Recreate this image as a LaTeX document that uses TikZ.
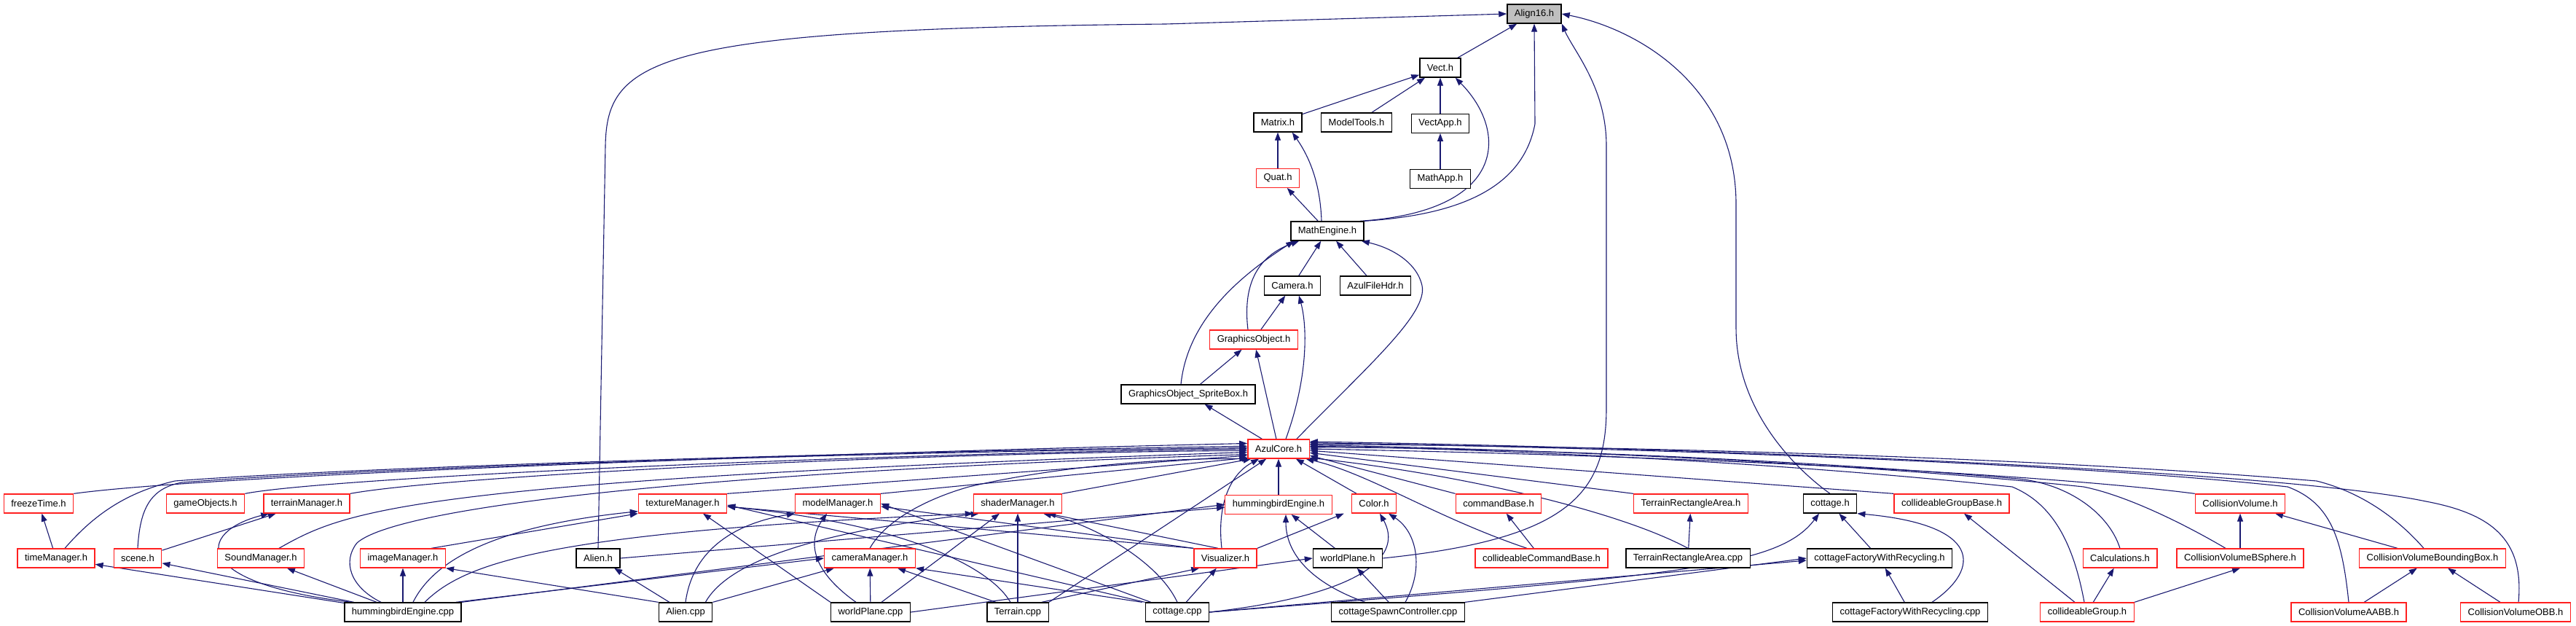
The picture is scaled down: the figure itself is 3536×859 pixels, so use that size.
\documentclass[tikz,border=0pt]{standalone}
\usepackage{fontspec}
\setmainfont{Liberation Sans}
\usetikzlibrary{arrows.meta,positioning,backgrounds}
\definecolor{EdgeBlue}{HTML}{191970}
\definecolor{RootGray}{HTML}{BFBFBF}
\definecolor{HdrRed}{HTML}{FF2020}
\tikzset{
  hdr/.style={rectangle,draw=black,line width=1.3pt,fill=white,minimum height=26pt,inner xsep=10pt,inner ysep=0pt,font=\fontsize{13}{15}\selectfont},
  redhdr/.style={hdr,draw=HdrRed},
  roothdr/.style={hdr,fill=RootGray},
  arrow/.style={-{Triangle[length=11pt,width=8pt]},line width=1.1pt,color=EdgeBlue},
}

\begin{document}
\begin{tikzpicture}[x=1pt,y=-1pt,node distance=49pt]
  \useasboundingbox (0,0) rectangle (3536,859);

  % Math part
  \node[roothdr] (align) at (2106,19) {Align16.h};
  \node[hdr] (vect) at (1977,93) {Vect.h};
  \node[hdr] (matrix) at (1754,168) {Matrix.h};
  \node[hdr] (modeltools) at (1862,168) {ModelTools.h};
  \node[hdr, below=of vect] (vectapp) {VectApp.h};
  \node[redhdr, below=of matrix] (quat) {Quat.h};
  \node[hdr, below=of vectapp] (mathapp) {MathApp.h};
  \node[hdr] (mathengine) at (1822,317) {MathEngine.h};
  \node[hdr] (camera) at (1774,392) {Camera.h};
  \node[hdr] (azulfilehdr) at (1888,392) {AzulFileHdr.h};
  \node[redhdr] (graphicsobj) at (1721,466) {GraphicsObject.h};
  \node[hdr] (spritebox) at (1631,541) {GraphicsObject\_SpriteBox.h};
  \node[redhdr] (azulcore) at (1755,616) {AzulCore.h};

  % Row under AzulCore
  \node[redhdr] (freezetime) at (53,691) {freezeTime.h};
  \node[redhdr] (gameobjects) at (282,691) {gameObjects.h};
  \node[redhdr] (terrainmgr) at (421,691) {terrainManager.h};
  \node[redhdr] (texturemgr) at (937,691) {textureManager.h};
  \node[redhdr] (modelmgr) at (1150,691) {modelManager.h};
  \node[redhdr] (shadermgr) at (1397,691) {shaderManager.h};
  \node[redhdr, below=of azulcore] (hbengineh) {hummingbirdEngine.h};
  \node[redhdr] (color) at (1886,691) {Color.h};
  \node[redhdr] (commandbase) at (2057,691) {commandBase.h};
  \node[redhdr] (terrainrectareah) at (2321,691) {TerrainRectangleArea.h};
  \node[hdr] (cottageh) at (2512,691) {cottage.h};
  \node[redhdr] (collgroupbase) at (2679,691) {collideableGroupBase.h};
  \node[redhdr] (collvolume) at (3075,691) {CollisionVolume.h};

  % Next row
  \node[redhdr] (timemgr) at (77,766) {timeManager.h};
  \node[redhdr] (scene) at (189,766) {scene.h};
  \node[redhdr] (soundmgr) at (358,766) {SoundManager.h};
  \node[redhdr] (imagemgr) at (553,766) {imageManager.h};
  \node[hdr] (alienh) at (821,766) {Alien.h};
  \node[redhdr] (cameramgr) at (1194,766) {cameraManager.h};
  \node[redhdr] (visualizer) at (1682,766) {Visualizer.h};
  \node[hdr] (worldplaneh) at (1850,766) {worldPlane.h};
  \node[redhdr] (collcmdbase) at (2116,766) {collideableCommandBase.h};
  \node[hdr] (terrainrectareacpp) at (2317,766) {TerrainRectangleArea.cpp};
  \node[hdr] (cottagefactoryh) at (2580,766) {cottageFactoryWithRecycling.h};
  \node[redhdr] (calculations) at (2910,766) {Calculations.h};
  \node[redhdr] (bsphere) at (3075,766) {CollisionVolumeBSphere.h};
  \node[redhdr] (boundingbox) at (3339,766) {CollisionVolumeBoundingBox.h};

  % Bottom row
  \node[hdr] (hbenginecpp) at (553,840) {hummingbirdEngine.cpp};
  \node[hdr] (aliencpp) at (941,840) {Alien.cpp};
  \node[hdr] (worldplanecpp) at (1195,840) {worldPlane.cpp};
  \node[hdr] (terraincpp) at (1397,840) {Terrain.cpp};
  \node[hdr] (cottagecpp) at (1616,840) {cottage.cpp};
  \node[hdr] (spawnctrl) at (1919,840) {cottageSpawnController.cpp};
  \node[hdr] (cottagefactorycpp) at (2622,840) {cottageFactoryWithRecycling.cpp};
  \node[redhdr] (collgroup) at (2865,840) {collideableGroup.h};
  \node[redhdr] (aabb) at (3224,840) {CollisionVolumeAABB.h};
  \node[redhdr] (obb) at (3453,840) {CollisionVolumeOBB.h};

  \begin{scope}[on background layer]
  % Into Align16.h
  \draw[arrow] (vect) -- (align);
  \draw[arrow] (alienh.north) -- (831,200) .. controls (833,80) and (900,40) .. (1600,33) -- (align.west);
  \draw[arrow] (mathengine.north east) .. controls (2000,295) and (2090,260) .. (2107,170) -- (align.south);
  \draw[arrow] (worldplaneh.east) .. controls (2150,740) and (2205,680) .. (2205,560) -- (2205,200) .. controls (2205,120) and (2160,70) .. (align.south east);
  \draw[arrow] (cottageh.north) .. controls (2460,640) and (2383,560) .. (2383,450) -- (2383,280) .. controls (2383,120) and (2250,40) .. (align.east);

  % Vect.h, Matrix.h and friends
  \draw[arrow] (matrix) -- (vect);
  \draw[arrow] (modeltools) -- (vect);
  \draw[arrow] (vectapp) -- (vect);
  \draw[arrow] ([xshift=-6pt]mathengine.north east) .. controls (2070,290) and (2070,180) .. ([xshift=-8pt]vect.south east);
  \draw[arrow] (quat) -- (matrix);
  \draw[arrow] ([xshift=-8pt]mathengine.north) .. controls (1812,240) and (1790,205) .. ([xshift=-14pt]matrix.south east);
  \draw[arrow] (mathapp) -- (vectapp);
  \draw[arrow] (mathengine) -- (quat);

  % MathEngine.h and graphics
  \draw[arrow] (camera) -- (mathengine);
  \draw[arrow] (azulfilehdr) -- (mathengine);
  \draw[arrow] ([xshift=-8pt]graphicsobj.north) .. controls (1705,385) and (1730,350) .. ([xshift=12pt]mathengine.south west);
  \draw[arrow] ([xshift=-10pt]spritebox.north) .. controls (1630,440) and (1700,380) .. ([xshift=5pt]mathengine.south west);
  \draw[arrow] ([xshift=-18pt]azulcore.north east) .. controls (1880,500) and (1960,430) .. (1952,392) .. controls (1945,360) and (1910,340) .. ([xshift=-4pt]mathengine.south east);
  \draw[arrow] (graphicsobj) -- (camera);
  \draw[arrow] ([xshift=10pt]azulcore.north) .. controls (1795,520) and (1795,450) .. ([xshift=9pt]camera.south);
  \draw[arrow] (spritebox) -- (graphicsobj);
  \draw[arrow] (azulcore) -- (graphicsobj);
  \draw[arrow] (azulcore) -- (spritebox);

  % Into AzulCore.h from the left
  \draw[arrow] (freezetime.north east) .. controls (300,650) and (1200,620) .. (azulcore.170);
  \draw[arrow] ([xshift=12pt]timemgr.north) .. controls (130,705) and (175,675) .. (240,660) .. controls (500,640) and (1200,620) .. (azulcore.175);
  \draw[arrow] (scene.north) .. controls (192,700) and (205,670) .. (250,662) .. controls (500,642) and (1200,620) .. (azulcore.178);
  \draw[arrow] (gameobjects.north east) .. controls (450,655) and (1200,622) .. (azulcore.180);
  \draw[arrow] (terrainmgr.north east) .. controls (600,655) and (1200,622) .. (azulcore.183);
  \draw[arrow] ([xshift=25pt]soundmgr.north) .. controls (475,700) and (560,660) .. (azulcore.186);
  \draw[arrow] ([xshift=-30pt]hbenginecpp.north) .. controls (480,805) and (470,770) .. (490,745) .. controls (540,700) and (900,650) .. (azulcore.190);
  \draw[arrow] (texturemgr.north east) -- (azulcore.192);
  \draw[arrow] (modelmgr.north east) -- (azulcore.196);
  \draw[arrow] (shadermgr.north east) -- (azulcore.200);
  \draw[arrow] (cameramgr.north) .. controls (1215,715) and (1270,685) .. (1330,668) .. controls (1450,640) and (1600,628) .. ([xshift=4pt]azulcore.south west);
  \draw[arrow] ([xshift=-5pt]visualizer.north) .. controls (1670,690) and (1690,650) .. ([xshift=16pt]azulcore.south west);
  \draw[arrow] (terraincpp.north east) -- ([xshift=26pt]azulcore.south west);
  \draw[arrow] (hbengineh) -- (azulcore);

  % Into AzulCore.h from the right
  \draw[arrow] (color) -- (azulcore);
  \draw[arrow] (commandbase.north west) -- (azulcore.-12);
  \draw[arrow] ([xshift=-20pt]collcmdbase.north) .. controls (1970,710) and (1880,650) .. (azulcore.-20);
  \draw[arrow] (terrainrectareah.north west) -- (azulcore.-7);
  \draw[arrow] (terrainrectareacpp.north) .. controls (2220,700) and (2000,650) .. (azulcore.-16);
  \draw[arrow] (collgroupbase.north west) -- (azulcore.-3);
  \draw[arrow] (collvolume.north west) .. controls (2800,650) and (2300,625) .. (azulcore.0);
  \draw[arrow] (calculations.north) .. controls (2895,705) and (2840,664) .. (2770,657) .. controls (2400,625) and (2000,614) .. (azulcore.3);
  \draw[arrow] ([xshift=-4pt]collgroup.north) .. controls (2845,740) and (2815,690) .. (2762,668) .. controls (2400,630) and (2000,615) .. (azulcore.5);
  \draw[arrow] ([xshift=-20pt]bsphere.north) .. controls (3000,720) and (2920,680) .. (2860,668) .. controls (2500,630) and (2000,614) .. (azulcore.7);
  \draw[arrow] ([xshift=-12pt]boundingbox.north) .. controls (3290,710) and (3240,675) .. (3180,660) .. controls (2700,620) and (2100,612) .. (azulcore.9);
  \draw[arrow] (aabb.north) .. controls (3215,740) and (3200,690) .. (3140,668) .. controls (2800,630) and (2100,612) .. (azulcore.11);
  \draw[arrow] ([xshift=4pt]obb.north) .. controls (3465,740) and (3420,705) .. (3330,688) .. controls (3100,640) and (2200,612) .. (azulcore.13);

  % Left group
  \draw[arrow] (timemgr) -- (freezetime);
  \draw[arrow] (scene) -- (terrainmgr);
  \draw[arrow] (hbenginecpp) -- (timemgr);
  \draw[arrow] (hbenginecpp) -- (scene);
  \draw[arrow] ([xshift=10pt]hbenginecpp.north west) .. controls (260,800) and (270,730) .. ([xshift=8pt]terrainmgr.south west);
  \draw[arrow] (hbenginecpp) -- (soundmgr);
  \draw[arrow] (hbenginecpp) -- (imagemgr);
  \draw[arrow] ([xshift=14pt]hbenginecpp.north) .. controls (600,760) and (700,720) .. ([yshift=3pt]texturemgr.south west);
  \draw[arrow] ([xshift=-20pt]imagemgr.north east) -- (texturemgr.south west);
  \draw[arrow] ([xshift=30pt]hbenginecpp.north) .. controls (640,770) and (760,730) .. (shadermgr.south west);
  \draw[arrow] ([xshift=-8pt]hbenginecpp.north east) -- (cameramgr.west);
  \draw[arrow] (hbenginecpp.north east) -- (hbengineh.west);
  \draw[arrow] (alienh.east) -- ([yshift=-4pt]hbengineh.west);

  % Alien.cpp
  \draw[arrow] (aliencpp) -- (alienh);
  \draw[arrow] (aliencpp.north west) -- (imagemgr.south east);
  \draw[arrow] (aliencpp.north) .. controls (950,760) and (1000,720) .. (modelmgr.south west);
  \draw[arrow] ([xshift=-10pt]aliencpp.north east) .. controls (1000,770) and (1120,730) .. ([xshift=8pt]shadermgr.south west);
  \draw[arrow] (aliencpp.north east) -- ([xshift=14pt]cameramgr.south west);

  % worldPlane.cpp
  \draw[arrow] (worldplanecpp.north west) -- ([xshift=28pt]texturemgr.south);
  \draw[arrow] ([xshift=-20pt]worldplanecpp.north) .. controls (1110,780) and (1110,740) .. ([xshift=-15pt]modelmgr.south);
  \draw[arrow] (worldplanecpp) -- (cameramgr);
  \draw[arrow] ([xshift=15pt]worldplanecpp.north) -- ([xshift=-25pt]shadermgr.south);
  \draw[arrow] (worldplanecpp.east) -- (worldplaneh.west);

  % Terrain.cpp
  \draw[arrow] ([xshift=-10pt]terraincpp.north) .. controls (1360,780) and (1250,720) .. ([yshift=-4pt]texturemgr.east);
  \draw[arrow] ([xshift=-30pt]terraincpp.north) -- ([xshift=-25pt]cameramgr.south east);
  \draw[arrow] (terraincpp) -- (shadermgr);
  \draw[arrow] ([xshift=-10pt]terraincpp.north east) -- ([xshift=8pt]visualizer.south west);

  % cottage.cpp
  \draw[arrow] (cottagecpp.north west) -- ([yshift=-2pt]texturemgr.east);
  \draw[arrow] ([xshift=8pt]cottagecpp.north west) -- (modelmgr.east);
  \draw[arrow] (cottagecpp.north) .. controls (1590,770) and (1500,720) .. ([xshift=35pt]shadermgr.south);
  \draw[arrow] ([xshift=-4pt]cottagecpp.north west) -- (cameramgr.south east);
  \draw[arrow] (cottagecpp) -- (visualizer);
  \draw[arrow] (cottagecpp.east) .. controls (1880,815) and (1925,760) .. ([xshift=8pt]color.south);
  \draw[arrow] (cottagecpp.east) -- ([yshift=-3pt]cottagefactoryh.west);
  \draw[arrow] (cottagecpp.east) .. controls (2300,790) and (2440,780) .. ([xshift=-15pt]cottageh.south);

  % Visualizer.h and worldPlane.h
  \draw[arrow] (visualizer.north west) -- ([yshift=-4pt]texturemgr.east);
  \draw[arrow] (visualizer.north west) -- ([yshift=-4pt]modelmgr.east);
  \draw[arrow] ([xshift=-10pt]visualizer.north) -- ([xshift=-20pt]shadermgr.south east);
  \draw[arrow] (visualizer.north east) -- ([xshift=-10pt]color.south west);
  \draw[arrow] (worldplaneh) -- (hbengineh);

  % cottageSpawnController.cpp
  \draw[arrow] ([xshift=-45pt]spawnctrl.north) .. controls (1800,800) and (1765,760) .. ([xshift=10pt]hbengineh.south);
  \draw[arrow] (spawnctrl) -- (worldplaneh);
  \draw[arrow] ([xshift=10pt]spawnctrl.north) .. controls (1955,780) and (1945,730) .. ([xshift=20pt]color.south);
  \draw[arrow] (spawnctrl.north east) -- (cottagefactoryh.west);

  % Right group
  \draw[arrow] (collcmdbase) -- (commandbase);
  \draw[arrow] (terrainrectareacpp) -- (terrainrectareah);
  \draw[arrow] (cottagefactoryh) -- (cottageh);
  \draw[arrow] (cottagefactorycpp) -- (cottagefactoryh);
  \draw[arrow] ([xshift=30pt]cottagefactorycpp.north) .. controls (2720,780) and (2720,720) .. (cottageh.south east);
  \draw[arrow] (collgroup) -- (collgroupbase);
  \draw[arrow] (collgroup) -- (calculations);
  \draw[arrow] (collgroup.north east) -- (bsphere.south);
  \draw[arrow] (bsphere) -- (collvolume);
  \draw[arrow] (boundingbox) -- (collvolume);
  \draw[arrow] (aabb) -- (boundingbox);
  \draw[arrow] (obb) -- (boundingbox);
  \end{scope}

\end{tikzpicture}
\end{document}
